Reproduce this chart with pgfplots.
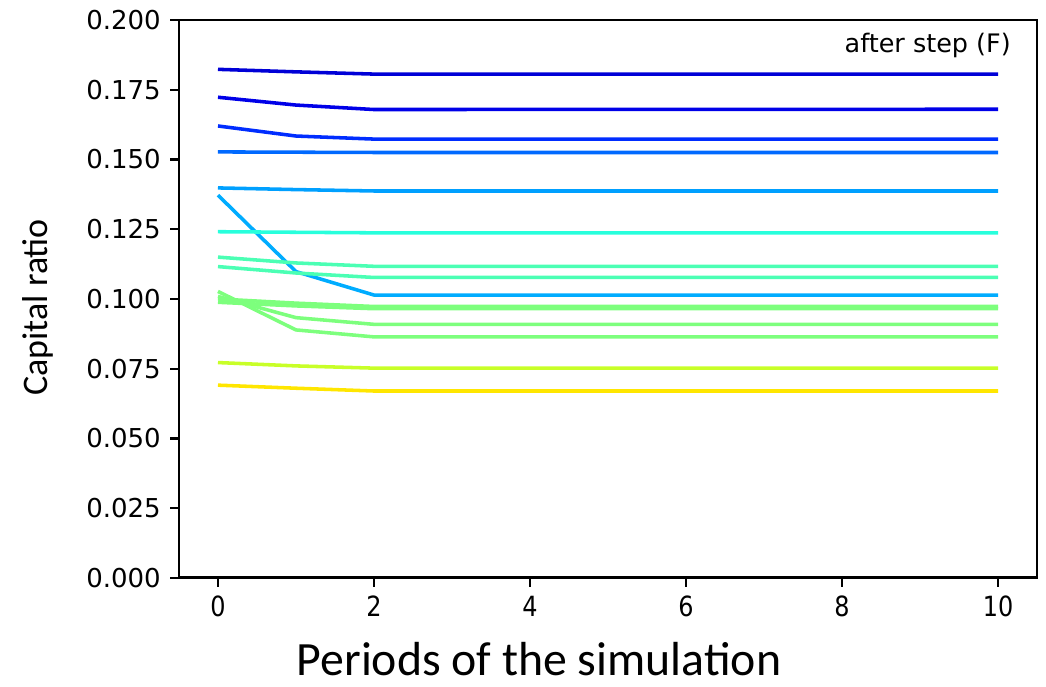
\documentclass[border=0pt]{standalone}
\usepackage{pgfplots}
\pgfplotsset{compat=1.18}
\usepackage{fontspec}
\setmainfont{DejaVu Sans}
\newfontfamily\labelfont{Carlito}
\definecolor{c1}{RGB}{0,0,215}
\definecolor{c2}{RGB}{0,0,232}
\definecolor{c3}{RGB}{0,45,255}
\definecolor{c4}{RGB}{0,105,255}
\definecolor{c5}{RGB}{0,160,255}
\definecolor{c6}{RGB}{0,172,255}
\definecolor{c7}{RGB}{40,255,220}
\definecolor{c8}{RGB}{75,255,180}
\definecolor{c9}{RGB}{125,255,125}
\definecolor{c10}{RGB}{200,255,40}
\definecolor{c11}{RGB}{255,230,0}
\begin{document}
\begin{tikzpicture}
\begin{axis}[
  scale only axis,
  width=11.484cm, height=7.468cm,
  xmin=-0.5, xmax=10.5, ymin=0, ymax=0.2,
  xtick={0,2,4,6,8,10},
  ytick={0,0.025,0.05,0.075,0.1,0.125,0.15,0.175,0.2},
  /pgf/number format/assume math mode=true,
  yticklabel={\pgfmathprintnumber[fixed,fixed zerofill,precision=3]{\tick}},
  xticklabel={\scalebox{0.86}[1]{\pgfmathprintnumber{\tick}}},
  yticklabel style={font=\fontsize{9.9}{11}\selectfont},
  xticklabel style={font=\fontsize{10.6}{12}\selectfont},
  tick align=outside, major tick length=3.4pt,
  xtick pos=bottom, ytick pos=left,
  every tick/.style={black, line width=0.9pt},
  axis line style={line width=1.1pt},
  xlabel={Periods of the simulation},
  ylabel={Capital ratio},
  xlabel style={font=\labelfont\fontsize{18.2}{20}\selectfont, at={(rel axis cs:0.4196,-0.175)}, anchor=base},
  ylabel style={font=\labelfont\fontsize{13.7}{16}\selectfont, at={(rel axis cs:-0.164,0.485)}, anchor=center},
  every axis plot/.append style={line width=1.35pt, no markers},
  clip=false,
]
\addplot[c1] coordinates {(0,0.1823) (1,0.1814) (2,0.1806) (10,0.1806)};
\addplot[c2] coordinates {(0,0.1723) (1,0.1695) (2,0.1679) (10,0.1680)};
\addplot[c3] coordinates {(0,0.1620) (1,0.1584) (2,0.1573) (10,0.1573)};
\addplot[c4] coordinates {(0,0.1527) (1,0.1526) (2,0.1525) (10,0.1525)};
\addplot[c5] coordinates {(0,0.1398) (1,0.1392) (2,0.1387) (10,0.1387)};
\addplot[c6] coordinates {(0,0.1372) (1,0.1098) (2,0.1014) (10,0.1014)};
\addplot[c7] coordinates {(0,0.1241) (1,0.1239) (2,0.1237) (10,0.1237)};
\addplot[c8] coordinates {(0,0.1150) (1,0.1129) (2,0.1117) (10,0.1117)};
\addplot[c8] coordinates {(0,0.1116) (1,0.1093) (2,0.1077) (10,0.1077)};
\addplot[c9] coordinates {(0,0.1000) (1,0.0985) (2,0.0973) (10,0.0973)};
\addplot[c9] coordinates {(0,0.0988) (1,0.0975) (2,0.0965) (10,0.0965)};
\addplot[c9] coordinates {(0,0.1009) (1,0.0933) (2,0.0909) (10,0.0909)};
\addplot[c9] coordinates {(0,0.1027) (1,0.0889) (2,0.0864) (10,0.0864)};
\addplot[c10] coordinates {(0,0.0772) (1,0.0760) (2,0.0752) (10,0.0752)};
\addplot[c11] coordinates {(0,0.0691) (1,0.0680) (2,0.0670) (10,0.0670)};
\node[anchor=east, font=\fontsize{9.7}{11}\selectfont, inner sep=0pt] at (rel axis cs:0.970,0.955) {after step (F)};
\coordinate (bl) at (rel axis cs:-0.2086,-0.1953);
\coordinate (tr) at (rel axis cs:1.0105,1.0358);
\end{axis}
\pgfresetboundingbox
\useasboundingbox (bl) rectangle (tr);
\end{tikzpicture}
\end{document}
